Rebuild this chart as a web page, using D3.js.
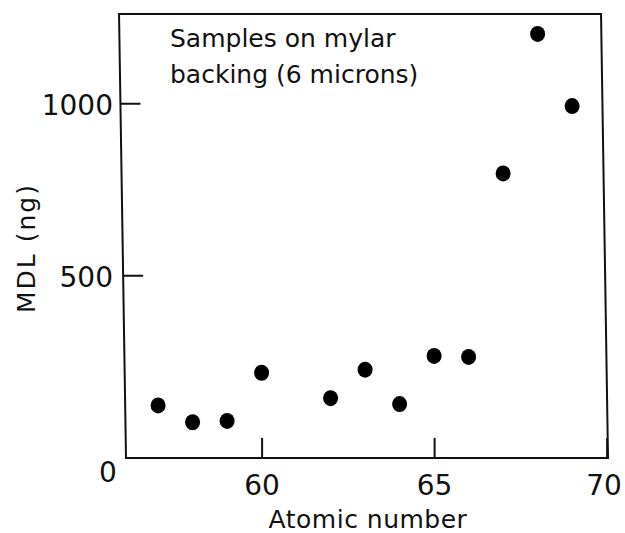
<!DOCTYPE html>
<html>
<head>
<meta charset="utf-8">
<script src="https://cdn.jsdelivr.net/npm/d3@7"></script>
<style>
  body { margin: 0; background: #fff; }
  svg { display: block; }
  text { font-family: "DejaVu Sans", sans-serif; fill: #111; }
</style>
</head>
<body>
<div id="chart"></div>
<script>
// data
var atomicNumber = [57, 58, 59, 60, 62, 63, 64, 65, 66, 67, 68, 69];
var mdlNg = [121, 72, 76, 216, 142, 225, 125, 265, 262, 796, 1202, 992];
var xTicks = [60, 65, 70];
var yTicks = [500, 1000];
var cornerLabel = "0";
var noteLines = ["Samples on mylar", "backing (6 microns)"];
var xTitle = "Atomic number";
var yTitle = "MDL (ng)";

var W = 625, H = 533;
// plot box edges (window.top is reserved, so own names)
var boxL = 126, boxR = 608, boxT = 14, boxB = 458;

var svg = d3.select("#chart").append("svg")
	.attr("width", W)
	.attr("height", H);

var x = d3.scaleLinear().domain([56.07, 70.04]).range([boxL, boxR]);
var y = d3.scaleLinear().domain([-32, 1260]).range([boxB, boxT]);

// the scanned frame leans a little, shear it around the bottom edge
var frame = svg.append("g")
	.attr("transform", "translate(0," + boxB + ") skewX(0.9) translate(0," + (-boxB) + ")");

frame.append("rect")
	.attr("x", boxL)
	.attr("y", boxT)
	.attr("width", boxR - boxL)
	.attr("height", boxB - boxT)
	.attr("fill", "none")
	.attr("stroke", "#111")
	.attr("stroke-width", 2);

var yAxis = frame.append("g")
	.attr("transform", "translate(" + boxL + ",0)")
	.call(d3.axisLeft(y).tickValues(yTicks).tickSize(-20).tickFormat(""));
yAxis.select(".domain").remove();
yAxis.selectAll("line").attr("stroke", "#111").attr("stroke-width", 2);

var xAxis = svg.append("g")
	.attr("transform", "translate(0," + boxB + ")")
	.call(d3.axisBottom(x).tickValues(xTicks).tickSize(-20).tickPadding(17));
xAxis.select(".domain").remove();
xAxis.selectAll("line").attr("stroke", "#111").attr("stroke-width", 2);
xAxis.selectAll("text")
	.attr("font-family", "DejaVu Sans, sans-serif")
	.attr("font-size", 28)
	.attr("fill", "#111");
// last label sits a bit left of the corner
xAxis.selectAll(".tick text").filter(function(d){ return d == 70; }).attr("dx", -3);

// y tick labels (kept upright, outside the sheared group)
svg.append("g")
	.selectAll("text")
	.data(yTicks)
	.enter()
	.append("text")
	.attr("x", 113)
	.attr("y", function(d){ return y(d) + 12; })
	.attr("text-anchor", "end")
	.attr("font-size", 28)
	.text(function(d){ return d; });

svg.append("text")
	.attr("x", 108)
	.attr("y", boxB + 24)
	.attr("text-anchor", "middle")
	.attr("font-size", 28)
	.text(cornerLabel);

// points
svg.append("g")
	.selectAll("ellipse")
	.data(atomicNumber)
	.enter()
	.append("ellipse")
	.attr("cx", function(d){ return x(d); })
	.attr("cy", function(d, i){ return y(mdlNg[i]); })
	.attr("rx", 7.5)
	.attr("ry", 8)
	.attr("fill", "#000");

// note in the upper left
svg.append("g")
	.selectAll("text")
	.data(noteLines)
	.enter()
	.append("text")
	.attr("x", 170)
	.attr("y", function(d, i){ return 47 + i * 36; })
	.attr("font-size", 25)
	.text(function(d){ return d; });

svg.append("text")
	.attr("x", 368)
	.attr("y", 528)
	.attr("text-anchor", "middle")
	.attr("font-size", 25)
	.attr("letter-spacing", 0.5)
	.text(xTitle);

svg.append("text")
	.attr("transform", "translate(35,248) rotate(-90)")
	.attr("text-anchor", "middle")
	.attr("font-size", 25)
	.attr("letter-spacing", 2)
	.text(yTitle);
</script>
</body>
</html>
